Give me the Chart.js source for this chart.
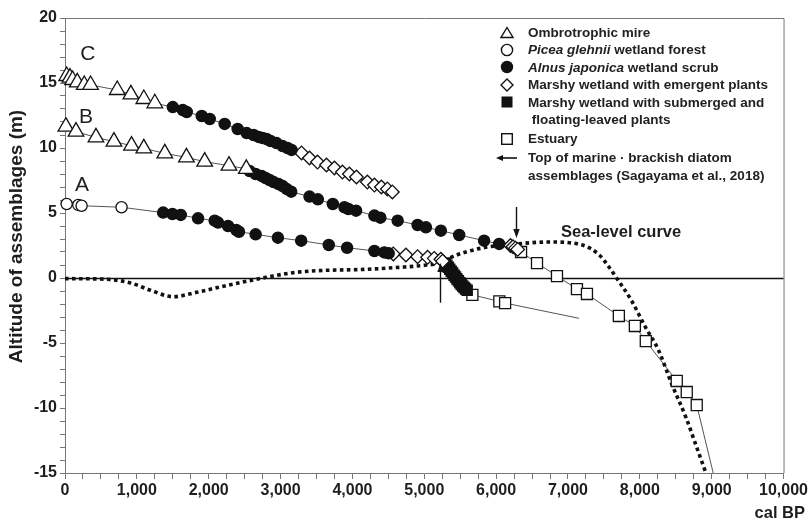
<!DOCTYPE html>
<html><head><meta charset="utf-8">
<script src="https://cdn.jsdelivr.net/npm/chart.js@4"></script>
<style>
html,body{margin:0;padding:0;background:#fff;}
#wrap{position:relative;width:810px;height:522px;}
#legend{position:absolute;left:496px;top:23.5px;font:bold 13.5px 'Liberation Sans',Arial,sans-serif;color:#222;line-height:17.5px;}
.row{display:flex;align-items:flex-start;}
.row.gap{margin-top:1.5px;}
.sym{width:22px;height:17.5px;flex:none;display:flex;align-items:center;justify-content:center;}
.txt{margin-left:10px;white-space:nowrap;}
</style></head>
<body><div id="wrap"><canvas id="c" width="810" height="522"></canvas><div id="legend"></div></div>
<script>
// ---------- data (cal BP, altitude m) ----------
// Curve C
const cMire   = [[23,15.54],[69,15.41],[106,15.23],[171,15.05],[268,14.85],[356,14.85],[727,14.46],[917,14.13],[1097,13.77],[1250,13.44]];
const cScrub  = [[1500,13.15],[1639,12.92],[1694,12.77],[1903,12.46],[2014,12.23],[2222,11.85],[2403,11.46],[2528,11.15],[2625,11.0],[2694,10.85],[2750,10.77],[2806,10.69],[2861,10.54],[2944,10.38],[3028,10.15],[3097,10.0],[3153,9.85]];
const cMarsh  = [[3292,9.62],[3403,9.23],[3514,8.92],[3639,8.69],[3750,8.46],[3861,8.15],[3958,8.0],[4056,7.77],[4208,7.38],[4306,7.15],[4403,7.0],[4486,6.85],[4556,6.62]];
// Curve B
const bMire   = [[12,11.64],[153,11.26],[431,10.82],[681,10.49],[926,10.18],[1097,9.97],[1389,9.59],[1690,9.28],[1944,8.95],[2282,8.64],[2523,8.40]];
const bScrub  = [[2569,8.23],[2653,8.0],[2736,7.85],[2792,7.69],[2847,7.54],[2903,7.38],[2972,7.23],[3028,7.08],[3083,6.85],[3148,6.64],[3403,6.26],[3519,6.05],[3727,5.69],[3889,5.44],[3944,5.31],[4051,5.18],[4306,4.80],[4389,4.64],[4630,4.41],[4907,4.08],[5023,3.90],[5231,3.64],[5486,3.31],[5833,2.87],[6042,2.62]];
const bMarsh  = [[6200,2.50],[6235,2.40],[6270,2.30],[6300,2.20]];
const bEstuary= [[6347,2.0],[6569,1.15],[6847,0.15],[7125,-0.85],[7264,-1.23],[7708,-2.92],[7931,-3.69],[8083,-4.85],[8514,-7.92],[8653,-8.77],[8792,-9.77]];
const bEnd    = [9030,-15.2];
// Curve A
const aForest = [[23,5.69],[185,5.62],[231,5.56],[787,5.44]];
const aScrub  = [[1366,5.03],[1495,4.92],[1611,4.85],[1852,4.59],[2083,4.41],[2130,4.26],[2269,4.0],[2384,3.69],[2421,3.56],[2653,3.36],[2963,3.10],[3287,2.87],[3671,2.54],[3926,2.33],[4306,2.08],[4444,1.97],[4505,1.90]];
const aMarsh  = [[4569,1.85],[4745,1.77],[4907,1.64],[5046,1.59],[5139,1.51],[5231,1.44],[5255,1.30]];
const aSubmerged = [[5292,1.15],[5315,0.98],[5335,0.83],[5355,0.68],[5375,0.52],[5395,0.38],[5415,0.22],[5435,0.08],[5455,-0.08],[5475,-0.22],[5495,-0.36],[5515,-0.50],[5535,-0.62],[5555,-0.73],[5575,-0.84],[5597,-0.95]];
const aEstuary= [[5670,-1.30],[6045,-1.80],[6125,-1.93]];
const aEnd    = [7153,-3.10];
// Sea-level curve
const seaX = [0,300,625,900,1180,1505,1830,2245,2616,2801,3171,3500,4200,4650,4950,5200,5440,5800,6280,6740,7190,7430,7570,7670,7880,8080,8260,8440,8640,8790,8920];
const seaY = [-0.05,-0.06,-0.12,-0.36,-0.92,-1.44,-1.10,-0.59,-0.15,0.05,0.41,0.56,0.67,0.82,0.95,1.15,1.75,2.30,2.62,2.77,2.55,1.80,0.85,0.05,-1.70,-3.80,-5.55,-8.10,-10.70,-13.00,-15.00];
// Arrows: top of marine-brackish diatom assemblages
const arrowX    = [5222, 6278];
const arrowFrom = [-1.9, 5.46];
const arrowTo   = [1.15, 3.08];
// Curve labels
const curveNames = ['A','B','C'];
const curveLabelX = [236, 292, 319];
const curveLabelY = [7.15, 12.4, 17.2];
const seaLabel = 'Sea-level curve';
const seaLabelPos = [6903, 3.54];
// Axes
const xTitle = 'cal BP';
const yTitle = 'Altitude of assemblages (m)';
// Legend
const legendLabels = [
  'Ombrotrophic mire',
  '<i>Picea glehnii</i> wetland forest',
  '<i>Alnus japonica</i> wetland scrub',
  'Marshy wetland with emergent plants',
  'Marshy wetland with submerged and<br>&nbsp;floating-leaved plants',
  'Estuary',
  'Top of marine · brackish diatom<br>assemblages (Sagayama et al., 2018)'
];
const legendSymbols = ['tri','ocirc','fcirc','diam','fsq','osq','arrow'];

// ---------- rendering ----------
const FONT = "'Liberation Sans', Arial, Helvetica, sans-serif";
const INK = '#1e1e1e';
const pts = a => a.map(([x,y]) => ({x, y}));

const svgSym = {
  tri:  '<svg width="14" height="13"><polygon points="7,1.5 13,11.5 1,11.5" fill="#fff" stroke="#111" stroke-width="1.4"/></svg>',
  ocirc:'<svg width="14" height="14"><circle cx="7" cy="7" r="5.6" fill="#fff" stroke="#111" stroke-width="1.4"/></svg>',
  fcirc:'<svg width="14" height="14"><circle cx="7" cy="7" r="6.2" fill="#111"/></svg>',
  diam: '<svg width="14" height="14"><polygon points="7,1 13,7 7,13 1,7" fill="#fff" stroke="#111" stroke-width="1.4"/></svg>',
  fsq:  '<svg width="14" height="14"><rect x="1.5" y="1.5" width="11" height="11" fill="#111"/></svg>',
  osq:  '<svg width="14" height="14"><rect x="1.7" y="1.7" width="10.6" height="10.6" fill="#fff" stroke="#111" stroke-width="1.4"/></svg>',
  arrow:'<svg width="22" height="10"><line x1="5" y1="5" x2="21" y2="5" stroke="#111" stroke-width="1.6"/><polygon points="0,5 7,2 7,8" fill="#111"/></svg>'
};
const lg = document.getElementById('legend');
legendLabels.forEach((t,i) => {
  const r = document.createElement('div');
  r.className = 'row' + (i === 5 || i === 6 ? ' gap' : '');
  r.innerHTML = '<div class="sym">' + svgSym[legendSymbols[i]] + '</div><div class="txt">' + t + '</div>';
  lg.appendChild(r);
});

const marker = (data, style, radius, fill) => ({
  data: pts(data), showLine: false, pointStyle: style, pointRadius: radius,
  pointBackgroundColor: fill, pointBorderColor: '#111', pointBorderWidth: 1.3,
  clip: false, order: 0
});
const line = data => ({
  data: pts(data), showLine: true, pointRadius: 0, borderColor: '#555', borderWidth: 1,
  tension: 0, order: 3
});

const lineC = [...cMire, ...cScrub, ...cMarsh];
const lineB = [...bMire, ...bScrub, ...bMarsh, ...bEstuary, bEnd];
const lineA = [...aForest, ...aScrub, ...aMarsh, ...aSubmerged, ...aEstuary, aEnd];

const decor = {
  id: 'decor',
  beforeDatasetsDraw(chart) {
    const {ctx, chartArea: a, scales: {x, y}} = chart;
    ctx.save();
    ctx.strokeStyle = '#777'; ctx.lineWidth = 1;
    ctx.beginPath();
    ctx.moveTo(a.left, a.top + 0.5); ctx.lineTo(a.right + 0.5, a.top + 0.5); ctx.lineTo(a.right + 0.5, a.bottom);
    ctx.stroke();
    const y0 = Math.round(y.getPixelForValue(0)) + 0.5;
    ctx.strokeStyle = '#111'; ctx.lineWidth = 1.5;
    ctx.beginPath(); ctx.moveTo(a.left, y0); ctx.lineTo(a.right, y0); ctx.stroke();
    ctx.restore();
  },
  afterDatasetsDraw(chart) {
    const {ctx, chartArea: a, scales: {x, y}} = chart;
    ctx.save();
    ctx.strokeStyle = '#111'; ctx.fillStyle = '#111'; ctx.lineWidth = 1.4;
    arrowX.forEach((v, i) => {
      const px = Math.round(x.getPixelForValue(v)) + 0.5;
      const p1 = y.getPixelForValue(arrowFrom[i]);
      const p2 = y.getPixelForValue(arrowTo[i]);
      const dir = Math.sign(p2 - p1);
      ctx.beginPath(); ctx.moveTo(px, p1); ctx.lineTo(px, p2 - dir * 6); ctx.stroke();
      ctx.beginPath(); ctx.moveTo(px, p2); ctx.lineTo(px - 3.2, p2 - dir * 9); ctx.lineTo(px + 3.2, p2 - dir * 9); ctx.closePath(); ctx.fill();
    });
    ctx.fillStyle = INK; ctx.textAlign = 'center'; ctx.textBaseline = 'middle';
    ctx.font = '21px ' + FONT;
    curveNames.forEach((n, i) => ctx.fillText(n, x.getPixelForValue(curveLabelX[i]), y.getPixelForValue(curveLabelY[i])));
    ctx.font = 'bold 16.5px ' + FONT; ctx.textAlign = 'left';
    ctx.fillText(seaLabel, x.getPixelForValue(seaLabelPos[0]), y.getPixelForValue(seaLabelPos[1]));
    ctx.font = 'bold 16.5px ' + FONT; ctx.textAlign = 'right';
    ctx.fillText(xTitle, chart.width - 5, 513);
    ctx.translate(17, (a.top + a.bottom) / 2 - 9);
    ctx.rotate(-Math.PI / 2);
    ctx.textAlign = 'center';
    ctx.font = 'bold 19px ' + FONT;
    ctx.fillText(yTitle, 0, 0);
    ctx.restore();
  }
};

new Chart(document.getElementById('c'), {
  type: 'scatter',
  data: { datasets: [
    line(lineC), line(lineB), line(lineA),
    { data: seaX.map((v, i) => ({x: v, y: seaY[i]})), showLine: true, pointRadius: 0,
      borderColor: '#111', borderWidth: 3.6, borderDash: [3.6, 3.4], cubicInterpolationMode: 'monotone', order: 2 },
    marker(cMire, 'triangle', 9, '#fff'),
    marker(bMire, 'triangle', 9, '#fff'),
    marker(cScrub, 'circle', 5.6, '#111'),
    marker(bScrub, 'circle', 5.6, '#111'),
    marker(aScrub, 'circle', 5.6, '#111'),
    marker(aForest, 'circle', 5.6, '#fff'),
    marker(cMarsh, 'rectRot', 6.8, '#fff'),
    marker(bMarsh, 'rectRot', 6.8, '#fff'),
    marker(aMarsh, 'rectRot', 6.8, '#fff'),
    marker(aSubmerged, 'rect', 7.2, '#111'),
    marker(bEstuary, 'rect', 7.8, '#fff'),
    marker(aEstuary, 'rect', 7.8, '#fff')
  ]},
  options: {
    responsive: false, animation: false, events: [],
    layout: { padding: { top: 18, right: 25, left: 0, bottom: 0 } },
    plugins: { legend: { display: false }, tooltip: { enabled: false } },
    scales: {
      x: {
        type: 'linear', min: 0, max: 10000,
        afterFit(s) { s.height = 49; },
        border: { color: '#777', width: 1 },
        grid: { drawOnChartArea: false, tickLength: 6, color: '#777', tickColor: '#777' },
        ticks: { stepSize: 250, autoSkip: false, maxRotation: 0, minRotation: 0, padding: 2, color: INK,
          font: { family: FONT, size: 16, weight: 'bold' },
          callback: v => (v % 1000 === 0 ? v.toLocaleString('en-US') : '') }
      },
      y: {
        type: 'linear', min: -15, max: 20,
        afterFit(s) { s.width = 65; },
        border: { color: '#777', width: 1 },
        grid: { drawOnChartArea: false, tickLength: 5, color: '#777', tickColor: '#777' },
        ticks: { stepSize: 1, autoSkip: false, padding: 3, color: INK,
          font: { family: FONT, size: 16, weight: 'bold' },
          callback: v => (v % 5 === 0 ? String(v) : '') }
      }
    }
  },
  plugins: [decor]
});
</script>
</body></html>
